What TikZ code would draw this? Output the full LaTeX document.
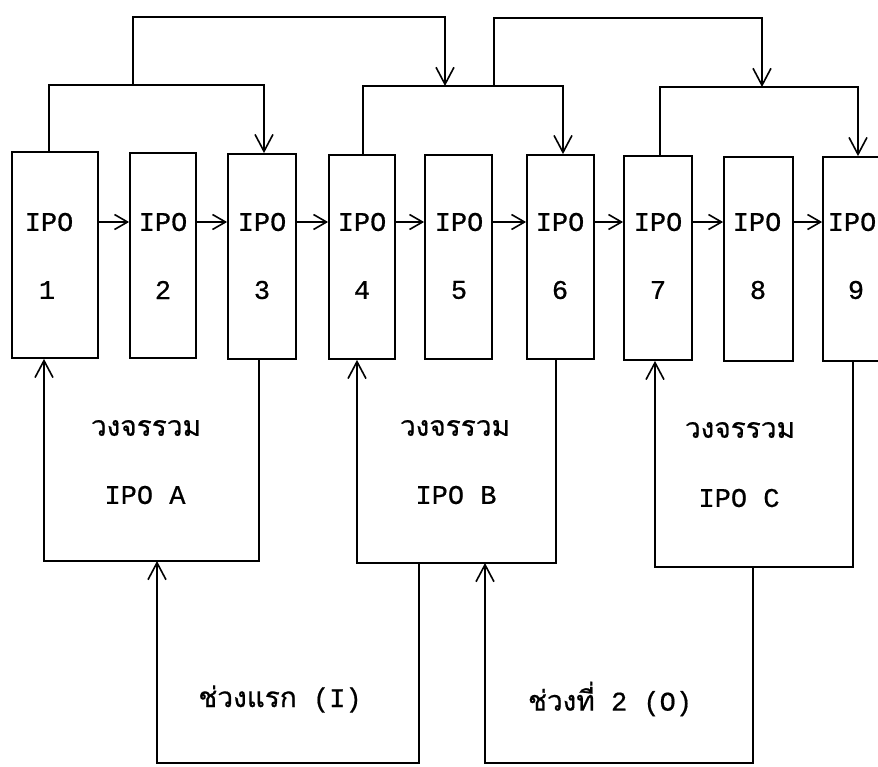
\documentclass[tikz,border=0pt]{standalone}
\usepackage{fontspec}
\setmainfont[FakeBold=0.6]{Liberation Mono}
\newfontfamily\thaifont[Script=Thai,FakeBold=0.6]{Loma}
\usetikzlibrary{arrows.meta,calc}
\tikzset{
  ln/.style={line width=1.8pt, line join=miter},
  arr/.style={ln, -{Straight Barb[length=13pt,width=15pt,line width=1.6pt]}},
  varr/.style={ln, -{Straight Barb[length=17pt,width=18pt,line width=1.6pt]}},
  ipobox/.style={draw, line width=1.8pt, rectangle, inner sep=0pt},
  lbl/.style={inner sep=0pt, font=\fontsize{27}{31}\selectfont},
  thlbl/.style={inner sep=0pt, font=\thaifont\fontsize{28}{33}\selectfont},
}
\begin{document}
\begin{tikzpicture}[x=1pt,y=-1pt]
\useasboundingbox (0,0) rectangle (878,766);
% IPO boxes: name / left / right / top / bottom
\foreach \n/\l/\r/\t/\b in {1/12/98/152/358, 2/130/196/153/358, 3/228/296/154/359,
  4/329/395/155/359, 5/425/492/155/359, 6/527/594/155/359, 7/624/692/156/360,
  8/724/793/157/361, 9/823/893/157/361}{
  \node[ipobox, minimum width={(\r-\l)*1pt}, minimum height={(\b-\t)*1pt}]
    (b\n) at ({(\l+\r)/2},{(\t+\b)/2}) {};
}
% labels inside boxes
\node[lbl] (t1) at (49,222) {IPO};   \node[lbl] (n1) at (47,290) {1};
\foreach \n/\x/\xx in {2/163/163, 3/262/262, 4/362/362, 5/459/459, 6/560/560, 7/658/658, 8/757/758, 9/852/856}{
  \node[lbl] (t\n) at (\x,222) {IPO};
  \node[lbl] (n\n) at (\xx,290) {\n};
}
% horizontal chain arrows
\foreach \i/\j in {1/2,2/3,3/4,4/5,5/6,6/7,7/8,8/9}{
  \draw[arr] (b\i.east |- t\i.center) -- (b\j.west |- t\i.center);
}
% coordinates for brackets
\coordinate (ya) at (0,85);
\coordinate (yb) at (0,86);
\coordinate (yc) at (0,87);
\coordinate (yu1) at (0,17);
\coordinate (yu2) at (0,18);
\coordinate (xa1) at (49,0);   \coordinate (xa3) at (264,0);
\coordinate (xb4) at (363,0);  \coordinate (xb6) at (563,0);
\coordinate (xc7) at (660,0);  \coordinate (xc9) at (858,0);
\coordinate (xu1s) at (133,0); \coordinate (xu1e) at (445,0);
\coordinate (xu2s) at (494,0); \coordinate (xu2e) at (762,0);
% lower brackets
\draw[varr] (b1.north -| xa1) -- (xa1 |- ya) -- (xa3 |- ya) -- (b3.north -| xa3);
\draw[varr] (b4.north -| xb4) -- (xb4 |- yb) -- (xb6 |- yb) -- (b6.north -| xb6);
\draw[varr] (b7.north -| xc7) -- (xc7 |- yc) -- (xc9 |- yc) -- (b9.north -| xc9);
% upper brackets
\draw[varr] (xu1s |- ya) -- (xu1s |- yu1) -- (xu1e |- yu1) -- (xu1e |- yb);
\draw[varr] (xu2s |- yb) -- (xu2s |- yu2) -- (xu2e |- yu2) -- (xu2e |- yc);
% lower loops (integrated cycles)
\coordinate (Abl) at (44,561);  \coordinate (Abr) at (259,561);
\coordinate (Bbl) at (357,563); \coordinate (Bbr) at (556,563);
\coordinate (Cbl) at (655,567); \coordinate (Cbr) at (853,567);
\draw[varr] (b3.south -| Abr) -- (Abr) -- (Abl) -- (b1.south -| Abl);
\draw[varr] (b6.south -| Bbr) -- (Bbr) -- (Bbl) -- (b4.south -| Bbl);
\draw[varr] (b9.south -| Cbr) -- (Cbr) -- (Cbl) -- (b7.south -| Cbl);
\node[thlbl] (la1) at (146,428) {วงจรรวม};
\node[lbl]   (la2) at (145,495) {IPO A};
\node[thlbl] (lb1) at (455,428) {วงจรรวม};
\node[lbl]   (lb2) at (456,495) {IPO B};
\node[thlbl] (lc1) at (740,430) {วงจรรวม};
\node[lbl]   (lc2) at (739,498) {IPO C};
% bottom phases
\coordinate (Ibl) at (157,763); \coordinate (Ibr) at (419,763);
\coordinate (Obl) at (485,763); \coordinate (Obr) at (753,763);
\draw[varr] (Bbr -| Ibr) -- (Ibr) -- (Ibl) -- (Abl -| Ibl);
\draw[varr] (Cbr -| Obr) -- (Obr) -- (Obl) -- (Bbl -| Obl);
\node[lbl] (lI) at (280,699) {{\thaifont\fontsize{28}{33}\selectfont ช่วงแรก} (I)};
\node[lbl] (lO) at (610,699) {{\thaifont\fontsize{28}{33}\selectfont ช่วงที่} 2 (O)};
\end{tikzpicture}
\end{document}
